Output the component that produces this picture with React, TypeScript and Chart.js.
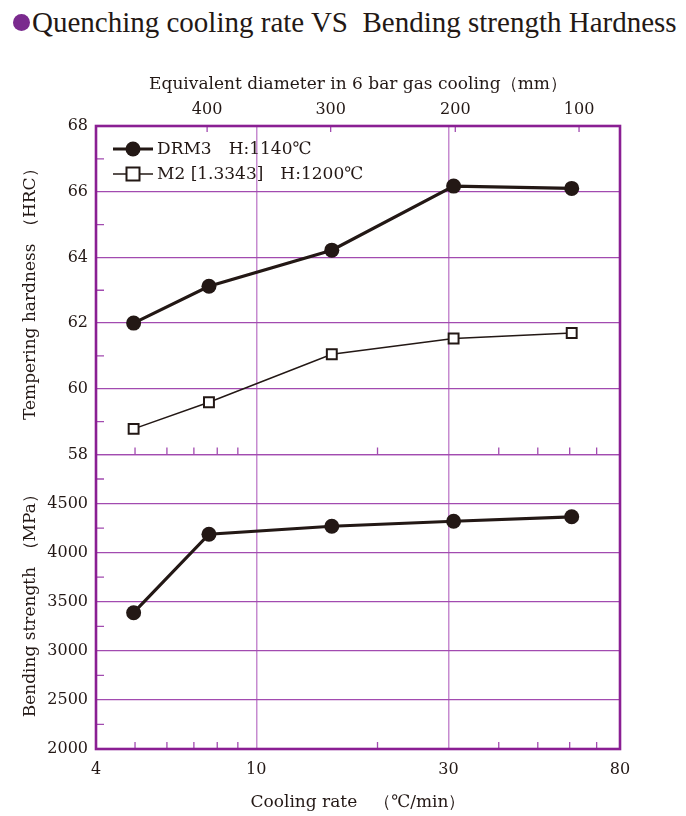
import React, { useEffect, useRef } from "react";
import { Chart, registerables } from "chart.js";

Chart.register(...registerables);

// ---- data ----
const coolingRates = [4.96, 7.63, 15.4, 30.9, 60.7];
const drm3Hardness = [62.0, 63.12, 64.22, 66.17, 66.1];
const m2Hardness = [58.78, 59.59, 61.05, 61.53, 61.7];
const drm3Bending = [3388, 4188, 4269, 4320, 4365];

const xTicks = [4, 10, 30, 80];
const xMinorTicks = [5, 6, 7, 8, 9, 20, 40, 50, 60, 70];
const diameterLabels = ["400", "300", "200", "100"];
const diameterRates = [7.55, 15.3, 31.2, 63.3];
const hardnessTicks = [58, 60, 62, 64, 66, 68];
const hardnessMinor = [59, 61, 63, 65, 67];
const bendingTicks = [2000, 2500, 3000, 3500, 4000, 4500, 5000];
const bendingMinor = [2250, 2750, 3250, 3750, 4250, 4750];

const legendLabels = ["DRM3\u3000H:1140\u2103", "M2 [1.3343]\u3000H:1200\u2103"];

const INK = "#231815";
const FRAME = "#8a1f93";
const GRID = "#a24bb0";
const VGRID = "#c68bd0";
const SERIF = '"DejaVu Serif", "Liberation Serif", serif';

const decorPlugin = {
  id: "decor",
  afterDraw(chart: any) {
    const { ctx, chartArea, scales } = chart;
    const { left, right, top, bottom } = chartArea;
    const x = scales.x;
    const x2 = scales.x2;
    const yH = scales.yH;
    const yB = scales.yB;
    ctx.save();
    // minor ticks
    ctx.strokeStyle = GRID;
    ctx.lineWidth = 1.3;
    ctx.beginPath();
    const midY = yH.getPixelForValue(58);
    for (const v of xMinorTicks) {
      const px = x.getPixelForValue(v);
      ctx.moveTo(px, bottom);
      ctx.lineTo(px, bottom - 7);
      ctx.moveTo(px, midY);
      ctx.lineTo(px, midY - 7);
    }
    for (const v of diameterRates) {
      const px = x2.getPixelForValue(v);
      ctx.moveTo(px, top);
      ctx.lineTo(px, top + 6);
    }
    for (const v of hardnessMinor) {
      const py = yH.getPixelForValue(v);
      ctx.moveTo(left, py);
      ctx.lineTo(left + 8, py);
    }
    for (const v of bendingMinor) {
      const py = yB.getPixelForValue(v);
      ctx.moveTo(left, py);
      ctx.lineTo(left + 8, py);
    }
    ctx.stroke();
    // frame
    ctx.strokeStyle = FRAME;
    ctx.lineWidth = 2.6;
    ctx.strokeRect(left, top, right - left, bottom - top);

    // legend
    const lx0 = left + 17;
    const lx1 = left + 57;
    const mx = left + 37;
    const rows = [top + 23, top + 48];
    ctx.strokeStyle = INK;
    ctx.lineWidth = 3.2;
    ctx.beginPath();
    ctx.moveTo(lx0, rows[0]);
    ctx.lineTo(lx1, rows[0]);
    ctx.stroke();
    ctx.fillStyle = INK;
    ctx.beginPath();
    ctx.arc(mx, rows[0], 7.5, 0, Math.PI * 2);
    ctx.fill();
    ctx.lineWidth = 1.5;
    ctx.beginPath();
    ctx.moveTo(lx0, rows[1]);
    ctx.lineTo(lx1, rows[1]);
    ctx.stroke();
    ctx.fillStyle = "#ffffff";
    ctx.fillRect(mx - 6.5, rows[1] - 6.5, 13, 13);
    ctx.lineWidth = 2;
    ctx.strokeRect(mx - 6.5, rows[1] - 6.5, 13, 13);
    ctx.fillStyle = INK;
    ctx.font = `17px ${SERIF}`;
    ctx.textBaseline = "middle";
    ctx.textAlign = "left";
    ctx.fillText(legendLabels[0], lx1 + 4, rows[0] + 1);
    ctx.fillText(legendLabels[1], lx1 + 4, rows[1] + 1);
    ctx.restore();
  },
};

export default function App() {
  const ref = useRef<HTMLCanvasElement | null>(null);

  useEffect(() => {
    const canvas = ref.current;
    if (!canvas) return;
    const tickFont = { family: SERIF, size: 16 };
    const titleFont = { family: SERIF, size: 17 };
    const vTitleFont = { family: SERIF, size: 17 };
    const pts = (ys: number[]) => coolingRates.map((x, i) => ({ x, y: ys[i] }));
    const chart = new Chart(canvas, {
      type: "scatter",
      data: {
        datasets: [
          {
            label: legendLabels[0],
            data: pts(drm3Hardness),
            yAxisID: "yH",
            xAxisID: "x",
            showLine: true,
            borderColor: INK,
            backgroundColor: INK,
            borderWidth: 3.2,
            pointRadius: 7.5,
            pointBorderWidth: 0,
            pointStyle: "circle",
          },
          {
            label: legendLabels[1],
            data: pts(m2Hardness),
            yAxisID: "yH",
            xAxisID: "x",
            showLine: true,
            borderColor: INK,
            backgroundColor: "#ffffff",
            borderWidth: 1.5,
            pointRadius: 7,
            pointBorderWidth: 2,
            pointBorderColor: INK,
            pointStyle: "rect",
          },
          {
            label: "DRM3 bending",
            data: pts(drm3Bending),
            yAxisID: "yB",
            xAxisID: "x",
            showLine: true,
            borderColor: INK,
            backgroundColor: INK,
            borderWidth: 3.2,
            pointRadius: 7.5,
            pointBorderWidth: 0,
            pointStyle: "circle",
          },
        ],
      },
      options: {
        animation: false,
        responsive: false,
        maintainAspectRatio: false,
        layout: { padding: { left: 0, right: 66, top: 0, bottom: 0 } },
        plugins: { legend: { display: false }, tooltip: { enabled: false } },
        scales: {
          x: {
            type: "logarithmic",
            position: "bottom",
            min: 4,
            max: 80,
            afterBuildTicks: (s: any) => {
              s.ticks = xTicks.map((v) => ({ value: v }));
            },
            afterFit: (s: any) => {
              s.height = 67;
            },
            ticks: {
              autoSkip: false,
              maxRotation: 0,
              padding: 11,
              color: INK,
              font: tickFont,
              callback: (v: any) => String(v),
            },
            grid: {
              drawTicks: false,
              lineWidth: 1.5,
              color: (c: any) => {
                const v = c.tick && c.tick.value;
                return v === 10 || v === 30 ? VGRID : "rgba(0,0,0,0)";
              },
            },
            border: { display: false },
            title: {
              display: true,
              text: "Cooling rate\u3000\uFF08\u2103/min\uFF09",
              color: INK,
              font: titleFont,
              padding: { top: 0, bottom: 3 },
            },
          },
          x2: {
            type: "logarithmic",
            position: "top",
            min: 4,
            max: 80,
            afterBuildTicks: (s: any) => {
              s.ticks = diameterRates.map((v) => ({ value: v }));
            },
            afterFit: (s: any) => {
              s.height = 126;
            },
            ticks: {
              autoSkip: false,
              maxRotation: 0,
              padding: 7,
              color: INK,
              font: tickFont,
              callback: (_v: any, i: number) => diameterLabels[i],
            },
            grid: { drawOnChartArea: false, drawTicks: false },
            border: { display: false },
            title: {
              display: true,
              text: "Equivalent diameter in 6 bar gas cooling\uFF08mm\uFF09",
              color: INK,
              font: titleFont,
              padding: { top: 74, bottom: 0 },
            },
          },
          yB: {
            type: "linear",
            position: "left",
            stack: "y",
            stackWeight: 295,
            weight: 1,
            min: 2000,
            max: 5000,
            afterBuildTicks: (s: any) => {
              s.ticks = bendingTicks.map((v) => ({ value: v }));
            },
            afterFit: (s: any) => {
              s.width = 96;
            },
            ticks: {
              padding: 8,
              color: INK,
              font: tickFont,
              callback: (v: any) => (v === 5000 ? "" : String(v)),
            },
            grid: { drawTicks: false, color: GRID, lineWidth: 1.3 },
            border: { display: false },
            title: {
              display: true,
              text: "Bending strength\u2002\uFF08MPa\uFF09",
              color: INK,
              font: vTitleFont,
              padding: { top: 20, bottom: 0 },
            },
          },
          yH: {
            type: "linear",
            position: "left",
            stack: "y",
            stackWeight: 329,
            weight: 2,
            min: 58,
            max: 68,
            afterBuildTicks: (s: any) => {
              s.ticks = hardnessTicks.map((v) => ({ value: v }));
            },
            afterFit: (s: any) => {
              s.width = 96;
            },
            ticks: {
              padding: 8,
              color: INK,
              font: tickFont,
              callback: (v: any) => String(v),
            },
            grid: { drawTicks: false, color: GRID, lineWidth: 1.3 },
            border: { display: false },
            title: {
              display: true,
              text: "Tempering hardness\u2002\uFF08HRC\uFF09",
              color: INK,
              font: vTitleFont,
              padding: { top: 20, bottom: 0 },
            },
          },
        },
      } as any,
      plugins: [decorPlugin],
    });
    return () => chart.destroy();
  }, []);

  return (
    <div style={{ position: "absolute", left: 0, top: 0, width: 686, height: 816, background: "#fff" }}>
      <div
        style={{
          position: "absolute",
          left: 13,
          top: 4,
          whiteSpace: "nowrap",
          fontFamily: '"Liberation Serif", serif',
          fontSize: 29,
          color: INK,
          display: "flex",
          alignItems: "center",
          lineHeight: "36px",
        }}
      >
        <span
          style={{
            display: "inline-block",
            width: 17,
            height: 17,
            borderRadius: "50%",
            background: "#7a2a8e",
            marginRight: 2,
          }}
        />
        <span>Quenching cooling rate VS&nbsp; Bending strength Hardness</span>
      </div>
      <canvas ref={ref} width={686} height={816} style={{ position: "absolute", left: 0, top: 0 }} />
    </div>
  );
}
